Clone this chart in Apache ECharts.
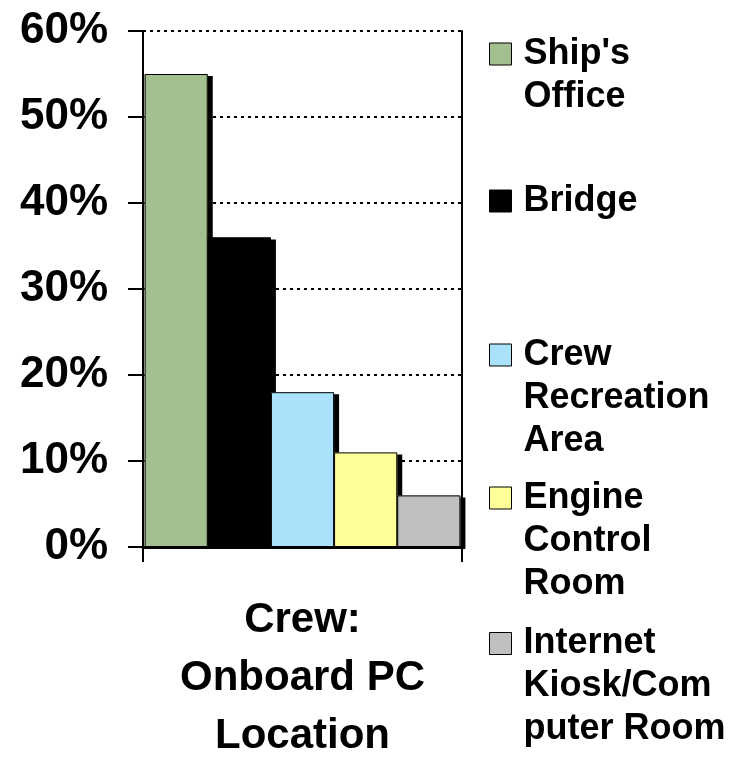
<!DOCTYPE html>
<html>
<head>
<meta charset="utf-8">
<script src="https://cdn.jsdelivr.net/npm/echarts@6/dist/echarts.min.js"></script>
<style>
    html, body {margin: 0; padding: 0; background: #fff;}
    #chart {width: 739px; height: 764px;}
</style>
</head>
<body>
<div id="chart"></div>
<script>
let category = ["Crew:\nOnboard PC\nLocation"]
let names = ["Ship's Office", "Bridge", "Crew Recreation Area", "Engine Control Room", "Internet Kiosk/Computer Room"]
let legendLabels = ["Ship's\nOffice", "Bridge", "Crew\nRecreation\nArea", "Engine\nControl\nRoom", "Internet\nKiosk/Com\nputer Room"]
let values = [55, 36, 18, 11, 6]
let colors = ["#a4bf8f", "#000000", "#aae2fc", "#ffff99", "#c0c0c0"]
let yTicks = [0, 10, 20, 30, 40, 50, 60]

// legend icon centres
let legendCenters = [54, 201, 355, 498, 643.5]
let lineH = 43
let font = "'Liberation Sans', Arial, sans-serif"

let chart = echarts.init(document.getElementById('chart'))

// filled bars with the drop shadow, no border (canvas would shadow the stroke too)
let series = names.map((name, i) => ({
    type: 'bar',
    name: name,
    data: [values[i]],
    barGap: '0%',
    barCategoryGap: '1%',
    itemStyle: {
        color: colors[i],
        borderWidth: 0,
        shadowColor: '#000',
        shadowBlur: 0,
        shadowOffsetX: 5,
        shadowOffsetY: 2
    }
}))

// thin outlines on top, on a hidden twin x axis so they line up with the bars
let outlines = names.map((name, i) => ({
    type: 'bar',
    name: name + ' outline',
    xAxisIndex: 1,
    data: [values[i]],
    barGap: '0%',
    barCategoryGap: '1%',
    silent: true,
    z: 3,
    itemStyle: {color: 'rgba(0,0,0,0)', borderColor: '#000', borderWidth: 1}
}))

let legends = names.map((name, i) => {
    let n = legendLabels[i].split('\n').length
    // blank lines in front keep the first line level with the icon
    let text = '\n'.repeat(n - 1) + legendLabels[i]
    return {
        data: [{name: name, itemStyle: {borderColor: '#000', borderWidth: 1}}],
        left: 489,
        top: legendCenters[i] - (2 * n - 1) * lineH / 2,
        orient: 'vertical',
        padding: 0,
        icon: 'rect',
        itemWidth: 22,
        itemHeight: 22,
        selectedMode: false,
        formatter: () => text,
        textStyle: {
            fontFamily: font,
            fontSize: 36,
            fontWeight: 'bold',
            color: '#000',
            lineHeight: lineH,
            padding: [0, 0, 0, 7]
        }
    }
})

chart.setOption({
    animation: false,
    backgroundColor: '#fff',
    grid: {left: 143, right: 277, top: 31, bottom: 217, outerBoundsMode: 'none'},
    legend: legends,
    xAxis: [{
        type: 'category',
        data: category,
        z: 4,
        axisLine: {lineStyle: {color: '#000', width: 3}},
        axisTick: {show: true, length: 15, lineStyle: {color: '#000', width: 2}},
        axisLabel: {
            interval: 0,
            margin: 44,
            fontFamily: font,
            fontSize: 42,
            fontWeight: 'bold',
            color: '#000',
            lineHeight: 58
        }
    }, {
        type: 'category',
        data: category,
        position: 'bottom',
        show: false
    }],
    yAxis: [{
        type: 'value',
        min: yTicks[0],
        max: yTicks[yTicks.length - 1],
        interval: 10,
        axisLine: {show: true, lineStyle: {color: '#000', width: 2}},
        axisTick: {show: true, length: 15, lineStyle: {color: '#000', width: 2}},
        axisLabel: {
            margin: 35,
            formatter: '{value}%',
            fontFamily: font,
            fontSize: 44,
            fontWeight: 'bold',
            color: '#000'
        },
        splitLine: {show: true, lineStyle: {color: '#000', width: 2, type: [3, 4]}}
    }, {
        type: 'value',
        position: 'right',
        min: yTicks[0],
        max: yTicks[yTicks.length - 1],
        interval: 10,
        axisLine: {show: true, lineStyle: {color: '#000', width: 2}},
        axisTick: {show: false},
        axisLabel: {show: false},
        splitLine: {show: false}
    }],
    series: series.concat(outlines)
})
</script>
</body>
</html>
